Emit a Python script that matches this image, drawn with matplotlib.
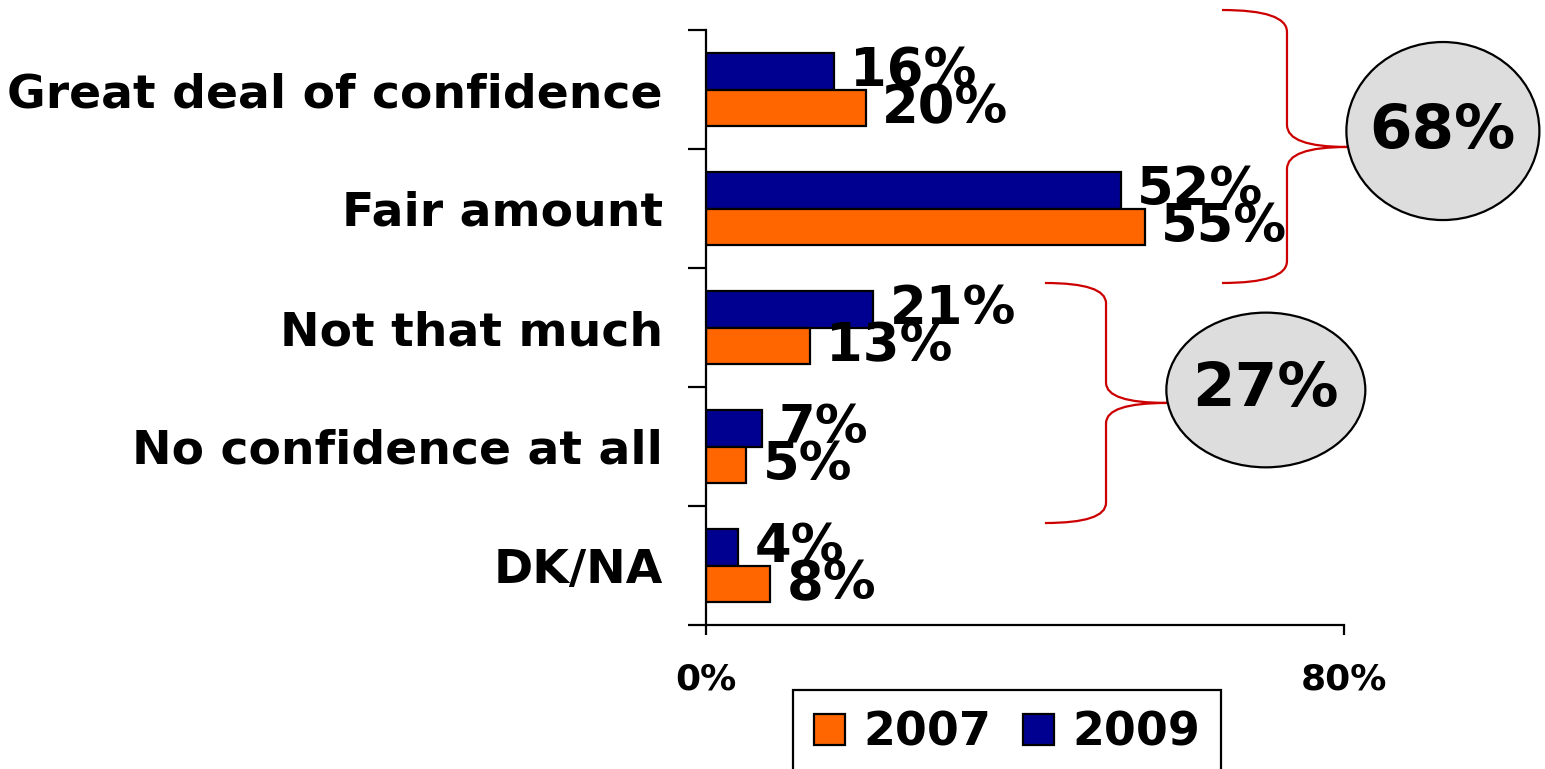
import numpy as np
import matplotlib
matplotlib.use("Agg")
import matplotlib.pyplot as plt
from matplotlib.path import Path
from matplotlib.patches import PathPatch, Ellipse

# data
categories = ['Great deal of confidence', 'Fair amount', 'Not that much',
              'No confidence at all', 'DK/NA']
vals_2007 = [20, 55, 13, 5, 8]
vals_2009 = [16, 52, 21, 7, 4]
group_totals = ['68%', '27%']
x_ticks = [0, 80]

orange = '#FF6600'
navy = '#000090'
red = '#CC0000'

plt.rcParams['font.family'] = ['DejaVu Sans']
plt.rcParams['font.weight'] = 'bold'

fig = plt.figure(figsize=(15.45, 7.69), dpi=100)
ax = fig.add_axes([706 / 1545, 1 - 625 / 769, 638 / 1545, 595 / 769])

y = np.arange(len(categories))
h = 0.31
b09 = ax.barh(y - h / 2, vals_2009, height=h, color=navy, edgecolor='black', linewidth=1.6, label='2009')
b07 = ax.barh(y + h / 2, vals_2007, height=h, color=orange, edgecolor='black', linewidth=1.6, label='2007')

# value labels
for yy, v in zip(y - h / 2, vals_2009):
    ax.annotate(f'{v}%', (v, yy), xytext=(12, 0), textcoords='offset points',
                va='center', ha='left', fontsize=38, fontweight='bold', annotation_clip=False)
for yy, v in zip(y + h / 2, vals_2007):
    ax.annotate(f'{v}%', (v, yy), xytext=(12, 0), textcoords='offset points',
                va='center', ha='left', fontsize=38, fontweight='bold', annotation_clip=False)

ax.set_xlim(0, 80)
ax.set_ylim(len(categories) - 0.5, -0.5)

ax.set_xticks(x_ticks)
ax.set_xticklabels([f'{t}%' for t in x_ticks], fontsize=26, fontweight='bold')
ax.tick_params(axis='x', length=7, width=1.6, pad=20)

ax.set_yticks(np.arange(len(categories) + 1) - 0.5)
ax.set_yticklabels([])
ax.set_yticks(y, minor=True)
ax.set_yticklabels(categories, minor=True, fontsize=34, fontweight='bold')
ax.tick_params(axis='y', which='major', length=13, width=1.6)
ax.tick_params(axis='y', which='minor', length=0, pad=31)

for s in ['top', 'right']:
    ax.spines[s].set_visible(False)
for s in ['left', 'bottom']:
    ax.spines[s].set_linewidth(1.6)


def brace(x_end, x_mid, x_tip, y_top, y_bot, y_tip, r):
    verts = [(x_end, y_top), (x_mid, y_top), (x_mid, y_top + r),
             (x_mid, y_tip - r), (x_mid, y_tip), (x_tip, y_tip),
             (x_mid, y_tip), (x_mid, y_tip + r),
             (x_mid, y_bot - r), (x_mid, y_bot), (x_end, y_bot)]
    codes = [Path.MOVETO, Path.CURVE3, Path.CURVE3,
             Path.LINETO, Path.CURVE3, Path.CURVE3,
             Path.CURVE3, Path.CURVE3,
             Path.LINETO, Path.CURVE3, Path.CURVE3]
    ax.add_patch(PathPatch(Path(verts, codes), fill=False, edgecolor=red,
                           linewidth=1.6, clip_on=False))


brace(64.7, 72.85, 80.4, -0.668, 1.626, 0.483, 0.185)
brace(42.5, 50.16, 57.8, 1.626, 3.643, 2.634, 0.17)

for (cx, cy, w, hh), txt in zip([(92.4, 0.349, 24.2, 1.496), (70.2, 2.525, 24.95, 1.30)], group_totals):
    ax.add_patch(Ellipse((cx, cy), w, hh, facecolor='#DDDDDD', edgecolor='black',
                         linewidth=1.6, clip_on=False, zorder=3))
    ax.text(cx, cy, txt, ha='center', va='center', fontsize=44, fontweight='bold', zorder=4)

fig.legend(handles=[b07, b09], labels=['2007', '2009'], loc='upper left',
           bbox_to_anchor=(793 / 1545, 1 - 690 / 769), ncol=2, fontsize=33,
           frameon=True, fancybox=False, edgecolor='black', framealpha=1,
           handlelength=0.68, handleheight=0.65, handletextpad=0.4,
           columnspacing=0.7, borderpad=0.45, borderaxespad=0)
fig.legends[0].get_frame().set_linewidth(1.6)

fig.savefig('out.png', dpi=100)
